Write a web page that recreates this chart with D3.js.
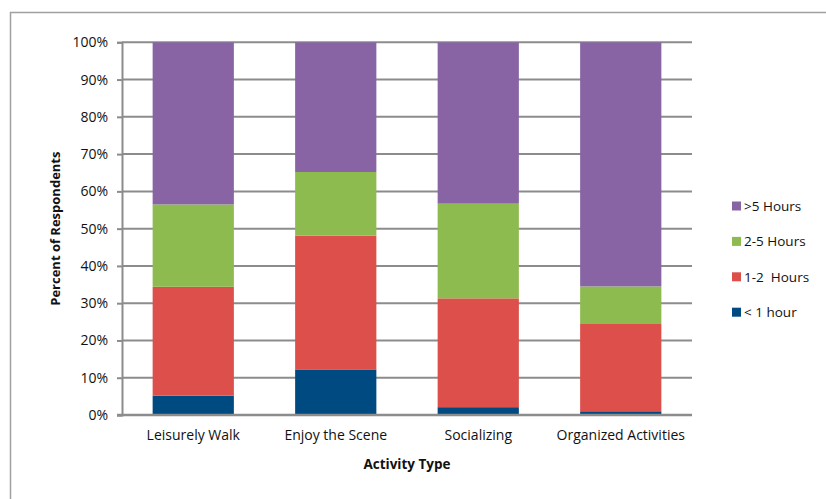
<!DOCTYPE html>
<html>
<head>
<meta charset="utf-8">
<script src="https://cdn.jsdelivr.net/npm/d3@7"></script>
<style>
  body { margin: 0; background: #fff; }
  svg text { font-family: "Open Sans", sans-serif; fill: #111; }
</style>
</head>
<body>
<div class="container"></div>
<script>
const WIDTH = 826;
const HEIGHT = 499;
const LEFT = 122, RIGHT = 692, TOP = 42.3, BOTTOM = 415;

// data (percent of respondents per segment)
const categories = ["Leisurely Walk", "Enjoy the Scene", "Socializing", "Organized Activities"];
const seriesNames = ["< 1 hour", "1-2  Hours", "2-5 Hours", ">5 Hours"];
const lessThan1 = [5.2, 12.1, 2.1, 1.0];
const oneToTwo = [29.2, 36.0, 29.2, 23.6];
const twoToFive = [22.1, 17.1, 25.4, 9.9];
const moreThan5 = [43.5, 34.8, 43.3, 65.5];
const yTicks = [0, 10, 20, 30, 40, 50, 60, 70, 80, 90, 100];

const colors = ["#004a82", "#dc4f4b", "#8dbb50", "#8964a5"];

var translate = function(x, y){
    return "translate(" + x + "," + y + ")";
};

var rows = categories.map(function(c, i){
    return {cat: c, s0: lessThan1[i], s1: oneToTwo[i], s2: twoToFive[i], s3: moreThan5[i]};
});

var stack = d3.stack().keys(["s0", "s1", "s2", "s3"]);
var stacked = stack(rows);

var xScale = d3.scaleBand()
    .domain(categories)
    .range([LEFT, RIGHT])
    .paddingInner(0.43)
    .paddingOuter(0.215);

var yScale = d3.scaleLinear()
    .domain([0, 100])
    .range([BOTTOM, TOP]);

var svg = d3.select('.container').append('svg')
    .attr('width', WIDTH)
    .attr('height', HEIGHT);

// outer frame
svg.append('rect')
    .attr('x', 10.5).attr('y', 12.5)
    .attr('width', 840).attr('height', 520)
    .attr('fill', 'none')
    .attr('stroke', '#a0a0a0')
    .attr('stroke-width', 1.5);

// gridlines
svg.append('g').selectAll('line')
    .data(yTicks.filter(function(d){ return d > 0; }))
    .enter().append('line')
    .attr('x1', LEFT).attr('x2', RIGHT)
    .attr('y1', function(d){ return yScale(d); })
    .attr('y2', function(d){ return yScale(d); })
    .attr('stroke', '#8c8c8c')
    .attr('stroke-width', 2);

// bars
svg.append('g').selectAll('g')
    .data(stacked)
    .enter().append('g')
    .attr('fill', function(d, i){ return colors[i]; })
    .selectAll('rect')
    .data(function(d){ return d; })
    .enter().append('rect')
    .attr('x', function(d){ return xScale(d.data.cat); })
    .attr('width', xScale.bandwidth())
    .attr('y', function(d){ return yScale(d[1]); })
    .attr('height', function(d){ return yScale(d[0]) - yScale(d[1]); });

// y axis
var yAxis = d3.axisLeft(yScale)
    .tickValues(yTicks)
    .tickSize(5)
    .tickFormat(function(d){ return d + "%"; });

var yG = svg.append('g')
    .attr('transform', translate(LEFT, 0))
    .call(yAxis);
yG.select('.domain').attr('stroke', '#8c8c8c').attr('stroke-width', 2);
yG.selectAll('.tick line').attr('stroke', '#8c8c8c').attr('stroke-width', 2);
yG.selectAll('.tick text')
    .attr('x', -14)
    .style('font-size', '14px')
    .style('font-family', '"Open Sans", sans-serif');

// x axis
var xAxis = d3.axisBottom(xScale).tickSize(0).tickSizeOuter(0);
var xG = svg.append('g')
    .attr('transform', translate(0, BOTTOM))
    .call(xAxis);
xG.select('.domain').attr('stroke', '#8c8c8c').attr('stroke-width', 2.5)
    .attr('d', 'M' + (LEFT - 5) + ',0H' + RIGHT);
xG.selectAll('.tick text')
    .attr('y', 15)
    .style('font-size', '14px')
    .style('font-family', '"Open Sans", sans-serif');

// axis titles
svg.append('text')
    .attr('x', (LEFT + RIGHT) / 2)
    .attr('y', 469)
    .attr('text-anchor', 'middle')
    .style('font-size', '13.5px')
    .style('font-weight', 'bold')
    .text("Activity Type");

svg.append('text')
    .attr('transform', translate(60, (TOP + BOTTOM) / 2) + ' rotate(-90)')
    .attr('text-anchor', 'middle')
    .style('font-size', '13px')
    .style('font-weight', 'bold')
    .text("Percent of Respondents");

// legend (top to bottom: >5 first)
var legendItems = seriesNames.map(function(n, i){ return {name: n, color: colors[i]}; }).reverse();
var legend = svg.append('g').selectAll('g')
    .data(legendItems)
    .enter().append('g')
    .attr('transform', function(d, i){ return translate(732, 206 + i * 35.4); });

legend.append('rect')
    .attr('x', 0).attr('y', -4.5)
    .attr('width', 9).attr('height', 9)
    .attr('fill', function(d){ return d.color; });

legend.append('text')
    .attr('x', 12)
    .attr('dy', '0.35em')
    .style('font-size', '13.5px')
    .style('white-space', 'pre')
    .attr('xml:space', 'preserve')
    .text(function(d){ return d.name; });
</script>
</body>
</html>
